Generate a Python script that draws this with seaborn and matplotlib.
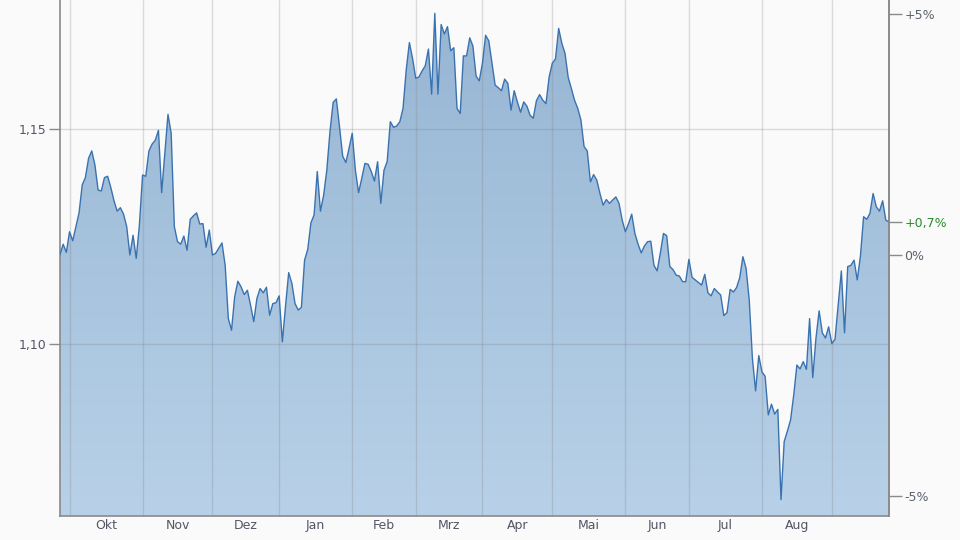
import numpy as np
import pandas as pd
import matplotlib
matplotlib.use('Agg')
import matplotlib.pyplot as plt
import seaborn as sns
from matplotlib.colors import LinearSegmentedColormap

# daily closes, one per trading day
price = [
    1.1209, 1.1233, 1.1214, 1.1262, 1.1241, 1.1274, 1.1306, 1.1371, 1.1388, 1.1433,
    1.1450, 1.1417, 1.1359, 1.1357, 1.1388, 1.1391, 1.1365, 1.1334, 1.1310, 1.1318,
    1.1303, 1.1274, 1.1208, 1.1254, 1.1200, 1.1278, 1.1394, 1.1391, 1.1450, 1.1466,
    1.1475, 1.1498, 1.1353, 1.1444, 1.1535, 1.1491, 1.1274, 1.1239, 1.1233, 1.1252,
    1.1219, 1.1291, 1.1299, 1.1306, 1.1280, 1.1281, 1.1226, 1.1266, 1.1208, 1.1212,
    1.1224, 1.1236, 1.1184, 1.1060, 1.1033, 1.1111, 1.1147, 1.1134, 1.1116, 1.1126,
    1.1091, 1.1053, 1.1107, 1.1130, 1.1120, 1.1133, 1.1068,
    1.1095, 1.1097, 1.1113, 1.1006, 1.1088, 1.1167, 1.1142, 1.1095, 1.1080, 1.1086,
    1.1196, 1.1221, 1.1283, 1.1301, 1.1402, 1.1310, 1.1347, 1.1405, 1.1495, 1.1563,
    1.1571, 1.1506, 1.1438, 1.1423, 1.1456, 1.1491, 1.1405, 1.1353, 1.1386, 1.1421,
    1.1419, 1.1402, 1.1380, 1.1425, 1.1328, 1.1405, 1.1425, 1.1518, 1.1505, 1.1508,
    1.1518, 1.1549, 1.1638, 1.1702, 1.1665, 1.1619, 1.1622, 1.1636, 1.1648, 1.1687,
    1.1582, 1.1770, 1.1582, 1.1744, 1.1722, 1.1739, 1.1683, 1.1690, 1.1549, 1.1537,
    1.1671, 1.1671, 1.1713, 1.1694, 1.1624, 1.1613,
    1.1654, 1.1719, 1.1706, 1.1654, 1.1603, 1.1597, 1.1590, 1.1617, 1.1607, 1.1545,
    1.1590, 1.1564, 1.1540, 1.1564, 1.1554, 1.1533, 1.1526, 1.1567, 1.1581, 1.1568,
    1.1560, 1.1622, 1.1654, 1.1664, 1.1735, 1.1700, 1.1677, 1.1621, 1.1595, 1.1568,
    1.1549, 1.1522, 1.1460, 1.1450, 1.1378, 1.1395, 1.1382, 1.1351, 1.1324, 1.1337,
    1.1328, 1.1336, 1.1343, 1.1328, 1.1289, 1.1262, 1.1281, 1.1303, 1.1258, 1.1233,
    1.1213, 1.1229, 1.1239, 1.1240, 1.1184, 1.1171, 1.1212, 1.1258, 1.1253, 1.1181,
    1.1174, 1.1161, 1.1159, 1.1146, 1.1146, 1.1198,
    1.1156, 1.1150, 1.1144, 1.1138, 1.1163, 1.1120, 1.1113, 1.1130, 1.1122, 1.1115,
    1.1067, 1.1074, 1.1128, 1.1122, 1.1132, 1.1155, 1.1204, 1.1177, 1.1103, 1.0967,
    1.0892, 1.0974, 1.0936, 1.0926, 1.0836, 1.0861, 1.0838, 1.0849, 1.0639, 1.0774,
    1.0798, 1.0824, 1.0882, 1.0952, 1.0943, 1.0960, 1.0942, 1.1060, 1.0923, 1.1014,
    1.1078, 1.1027, 1.1015, 1.1041, 1.1002, 1.1012, 1.1091, 1.1171, 1.1027, 1.1181,
    1.1184, 1.1196, 1.1150, 1.1205, 1.1297, 1.1291, 1.1305, 1.1351, 1.1320, 1.1310,
    1.1334, 1.1289, 1.1285,
]
month_names = ['Okt', 'Nov', 'Dez', 'Jan', 'Feb', 'Mrz', 'Apr', 'Mai', 'Jun', 'Jul', 'Aug']
left_ticks = [1.10, 1.15]
left_labels = ['1,10', '1,15']
pct_ticks = [5, 0, -5]

dates = pd.bdate_range('2018-09-26', periods=len(price))
df = pd.DataFrame({'date': dates, 'price': price})
df['i'] = np.arange(len(df))

# first trading day of each month -> gridlines
month_start = df.loc[df['date'].dt.month != df['date'].dt.month.shift(), 'i'].values[1:]
mids = (month_start[:-1] + month_start[1:]) / 2

sns.set_style('white')
plt.rcParams['font.family'] = ['DejaVu Sans']

bg = '#fafafa'
fig = plt.figure(figsize=(9.6, 5.4), dpi=100, facecolor=bg)
ax = fig.add_axes([60 / 960, 24 / 540, 829 / 960, 516 / 540])
ax.set_facecolor(bg)

ylo, yhi = 1.0601, 1.1801
xmax = len(df) - 1

# gradient area under the line
poly = ax.fill_between(df['i'], df['price'], ylo, color='none', lw=0)
cmap = LinearSegmentedColormap.from_list('area', ['#96b5d3', '#b8d1e8'])
im = ax.imshow(np.linspace(0, 1, 256).reshape(-1, 1), cmap=cmap, aspect='auto',
               extent=[0, xmax, ylo, yhi], origin='upper', zorder=1)
im.set_clip_path(poly.get_paths()[0], transform=ax.transData)

sns.lineplot(data=df, x='i', y='price', ax=ax, color='#3a72b0', lw=1.0, zorder=3)

ax.set_xlim(0, xmax)
ax.set_ylim(ylo, yhi)
ax.set_xlabel('')
ax.set_ylabel('')

ax.set_xticks(month_start)
ax.set_xticklabels([])
ax.set_xticks(mids, minor=True)
ax.set_xticklabels(month_names, minor=True)
ax.tick_params(axis='x', which='both', length=0)
ax.tick_params(axis='x', which='minor', pad=2, labelsize=9, labelcolor='#555566')

ax.set_yticks(left_ticks)
ax.set_yticklabels(left_labels)
ax.tick_params(axis='y', length=8, width=1, color='#8a8a8a', pad=2,
               labelsize=9, labelcolor='#555566')

ax.set_axisbelow(False)
ax.grid(True, color='#808080', alpha=0.26, lw=1)

for s in ['left', 'bottom', 'right']:
    ax.spines[s].set_color('#8a8a8a')
    ax.spines[s].set_linewidth(1.2)
ax.spines['top'].set_visible(False)

# right axis: change relative to the first close
base = price[0]
last_pct = (price[-1] / base - 1) * 100
ax2 = ax.twinx()
ax2.set_ylim(ylo, yhi)
rticks = [base * (1 + p / 100) for p in [pct_ticks[0], last_pct, pct_ticks[1], pct_ticks[2]]]
rlabels = ['+5%', ('+%.1f%%' % last_pct).replace('.', ','), '0%', '-5%']
ax2.set_yticks(rticks)
ax2.set_yticklabels(rlabels)
ax2.tick_params(axis='y', length=9, width=1, color='#8a8a8a', pad=2,
                labelsize=9, labelcolor='#5a6070')
ax2.get_yticklabels()[1].set_color('#2b8a2b')
ax2.grid(False)
for s in ['left', 'top', 'bottom']:
    ax2.spines[s].set_visible(False)
ax2.spines['right'].set_color('#8a8a8a')
ax2.spines['right'].set_linewidth(1.2)

fig.savefig('out.png', dpi=100, facecolor=bg)
